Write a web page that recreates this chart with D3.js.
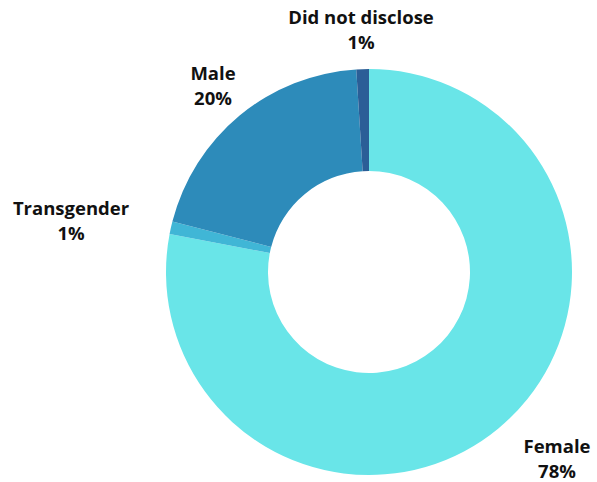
<!DOCTYPE html>
<html>
<head>
<meta charset="utf-8">
<script src="https://cdn.jsdelivr.net/npm/d3@7"></script>
<style>
  body { margin: 0; background: #fff; }
  svg { display: block; }
</style>
</head>
<body>
<svg width="597" height="482"></svg>
<script>
const categories = ["Female", "Transgender", "Male", "Did not disclose"];
const values = [78, 1, 20, 1];
const pctLabels = ["78%", "1%", "20%", "1%"];
const colors = ["#69e5e8", "#40b6d6", "#2d8bba", "#2b5e97"];
// label x and baseline of first line
const labelPos = [[557, 453], [71, 215], [213, 80], [361, 24]];

const width = 597, height = 482;
const cx = 369, cy = 272;
const outerR = 203, innerR = 101;

const svg = d3.select("svg");
const g = svg.append("g").attr("transform", `translate(${cx},${cy})`);

const pie = d3.pie().sort(null).value(d => d);
const arc = d3.arc().innerRadius(innerR).outerRadius(outerR);

g.selectAll("path")
  .data(pie(values))
  .join("path")
    .attr("d", arc)
    .attr("fill", (d, i) => colors[i]);

const labels = svg.append("g")
  .attr("font-family", "'Open Sans', sans-serif")
  .attr("font-weight", "bold")
  .attr("font-size", "18.5px")
  .attr("fill", "#111")
  .attr("text-anchor", "middle");

categories.forEach((c, i) => {
  const [x, y] = labelPos[i];
  labels.append("text").attr("x", x).attr("y", y).text(c);
  labels.append("text").attr("x", x).attr("y", y + 25).text(pctLabels[i]);
});
</script>
</body>
</html>
